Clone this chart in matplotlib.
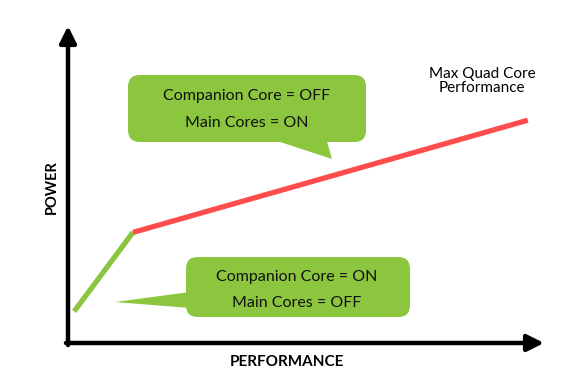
import matplotlib.pyplot as plt
from matplotlib.patches import FancyBboxPatch, Polygon

plt.rcParams['font.family'] = ['Lato', 'DejaVu Sans']

# power curve: companion core segment then main cores segment
perf_companion = [0.13, 1.37]
power_companion = [1.0, 3.5]
perf_main = [1.37, 9.7]
power_main = [3.5, 7.05]

top_lines = ['Companion Core = OFF', 'Main Cores = ON']
bottom_lines = ['Companion Core = ON', 'Main Cores = OFF']
max_label = 'Max Quad Core\nPerformance'

green = '#8cc63f'
red = '#ff4c4c'

W, H = 580, 377
x0, y0 = 68, 343          # pixel position of origin
sx, sy = 47.4, 31.6       # pixels per unit


def px(x, y):
    # pixel position -> data coords (layout only)
    return (x - x0) / sx, (y0 - y) / sy


fig = plt.figure(figsize=(5.8, 3.77), dpi=100)
ax = fig.add_axes([0, 0, 1, 1])
ax.set_xlim(px(0, 0)[0], px(W, 0)[0])
ax.set_ylim(px(0, H)[1], px(0, 0)[1])
ax.axis('off')

# axes with arrows
ax.annotate('', xy=px(544, y0), xytext=px(x0 - 2, y0),
            arrowprops=dict(arrowstyle='-|>,head_length=1.0,head_width=0.5',
                            lw=3.2, color='black', shrinkA=0, shrinkB=0))
ax.annotate('', xy=px(x0, 26), xytext=px(x0, y0 + 2),
            arrowprops=dict(arrowstyle='-|>,head_length=1.0,head_width=0.5',
                            lw=3.2, color='black', shrinkA=0, shrinkB=0))

ax.plot(perf_companion, power_companion, color=green, lw=3.8, solid_capstyle='butt', zorder=3)
ax.plot(perf_main, power_main, color=red, lw=3.8, solid_capstyle='butt', zorder=3)


def bubble(left, top, right, bottom, tail):
    (l, t), (r, b) = px(left, top), px(right, bottom)
    box = FancyBboxPatch((l, b), r - l, t - b,
                         boxstyle='round,pad=0,rounding_size=0.25',
                         mutation_aspect=sx / sy,
                         fc=green, ec='none', zorder=4)
    ax.add_patch(box)
    ax.add_patch(Polygon([px(*p) for p in tail], closed=True,
                         fc=green, ec='none', zorder=4))


bubble(128, 75, 366, 142, [(268, 138), (326, 138), (332, 159)])
bubble(186, 257, 410, 317, [(190, 292), (190, 308), (115, 302)])

for i, s in enumerate(top_lines):
    ax.text(*px(247, 96 + 27 * i), s, ha='center', va='center',
            fontsize=11.5, color='#111111', zorder=5)
for i, s in enumerate(bottom_lines):
    ax.text(*px(297, 277 + 26 * i), s, ha='center', va='center',
            fontsize=11.5, color='#111111', zorder=5)

ax.text(*px(482, 81), max_label, ha='center', va='center',
        fontsize=11, linespacing=1.05)
ax.text(*px(52, 187), 'POWER', rotation=90, ha='center', va='center',
        fontsize=10.5, fontweight='bold')
ax.text(*px(287, 362), 'PERFORMANCE', ha='center', va='center',
        fontsize=11, fontweight='bold')

fig.savefig('out.png', dpi=100)
